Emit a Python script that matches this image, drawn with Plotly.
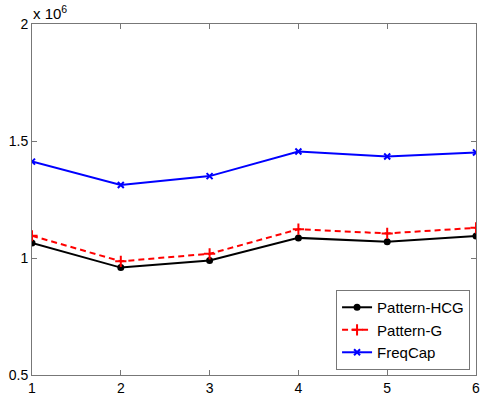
import plotly.graph_objects as go

x = [1, 2, 3, 4, 5, 6]
hcg = [1.064e6, 0.959e6, 0.989e6, 1.086e6, 1.069e6, 1.094e6]
pg = [1.095e6, 0.986e6, 1.018e6, 1.123e6, 1.105e6, 1.129e6]
freqcap = [1.412e6, 1.312e6, 1.350e6, 1.455e6, 1.434e6, 1.451e6]
yticks = [0.5e6, 1e6, 1.5e6, 2e6]
yticklabels = ["0.5", "1", "1.5", "2"]

fig = go.Figure()
fig.add_trace(go.Scatter(x=x, y=hcg, name="Pattern-HCG", mode="lines+markers",
                         line=dict(color="black", width=2),
                         marker=dict(symbol="circle", size=7, color="black")))
fig.add_trace(go.Scatter(x=x, y=pg, name="Pattern-G", mode="lines+markers",
                         line=dict(color="red", width=2, dash="6px,4px"),
                         marker=dict(symbol="cross-thin", size=8, color="red",
                                     line=dict(color="red", width=2))))
fig.add_trace(go.Scatter(x=x, y=freqcap, name="FreqCap", mode="lines+markers",
                         line=dict(color="blue", width=2),
                         marker=dict(symbol="x-thin", size=6, color="blue",
                                     line=dict(color="blue", width=2))))

axis_common = dict(showline=True, linecolor="#777", linewidth=1, mirror="allticks",
                   ticks="inside", ticklen=5, tickcolor="#777", showgrid=False,
                   zeroline=False,
                   tickfont=dict(family="Liberation Sans, Arial", size=14, color="black"))
fig.update_xaxes(range=[1, 6], tickvals=x, **axis_common)
fig.update_yaxes(range=[0.5e6, 2e6], tickvals=yticks, ticktext=yticklabels, **axis_common)

fig.update_layout(
    width=484, height=400,
    margin=dict(l=32, r=4, t=24, b=23),
    paper_bgcolor="white", plot_bgcolor="white",
    showlegend=True,
    legend=dict(x=(474 - 32) / 448, y=(377 - 372) / 353, xanchor="right", yanchor="bottom",
                bordercolor="#777", borderwidth=1, bgcolor="white",
                font=dict(family="Liberation Sans, Arial", size=15, color="black"),
                tracegroupgap=0, itemwidth=30),
    annotations=[dict(text="x 10<sup>6</sup>", x=0, y=1, xref="paper", yref="paper",
                      xanchor="left", yanchor="bottom", showarrow=False, xshift=-1, yshift=0,
                      font=dict(family="Liberation Sans, Arial", size=15, color="black"))],
)

fig.write_html("out.html")
